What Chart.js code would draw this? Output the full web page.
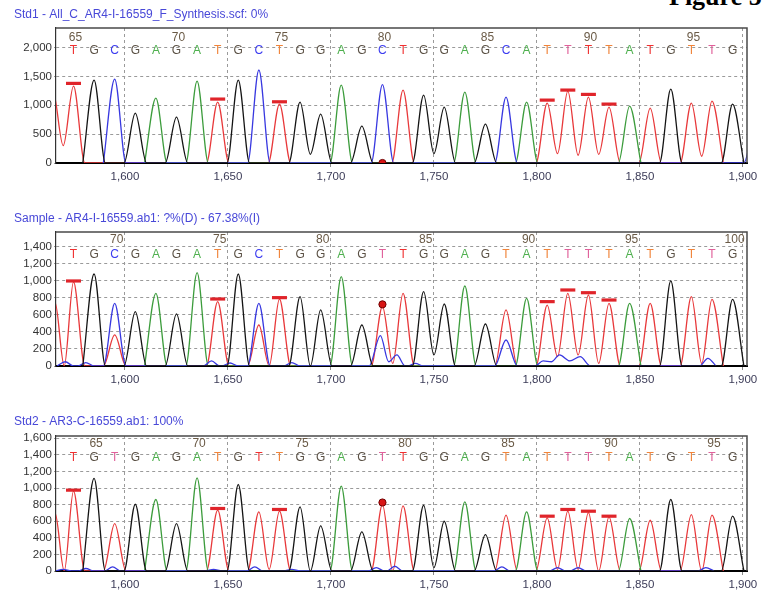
<!DOCTYPE html>
<html><head><meta charset="utf-8">
<script src="https://cdn.jsdelivr.net/npm/chart.js@4.4.1/dist/chart.umd.min.js"></script>
<style>
html,body{margin:0;padding:0;background:#fff;overflow:hidden;width:774px;height:592px;position:relative;}
.p{position:absolute;left:0;width:774px;}
#fig{position:absolute;left:669px;top:-18px;font:bold 26px "Liberation Serif",serif;color:#000;white-space:nowrap;}
</style></head><body>
<div id="fig">Figure 5</div>
<div class="p" style="top:0;height:195px"><canvas id="c1" width="774" height="195"></canvas></div>
<div class="p" style="top:200px;height:195px"><canvas id="c2" width="774" height="195"></canvas></div>
<div class="p" style="top:404px;height:188px"><canvas id="c3" width="774" height="188"></canvas></div>
<script>
// ---- data ----
const basePos = [1575,1585,1595,1605,1615,1625,1635,1645,1655,1665,1675,1685,1695,1705,1715,1725,1735,1745,1755,1765,1775,1785,1795,1805,1815,1825,1835,1845,1855,1865,1875,1885,1895];

const std1Title = 'Std1 - All_C_AR4-I-16559_F_Synthesis.scf: 0%';
const std1Bases = 'TGCGAGATGCTGGAGCTGGAGCATTTTATGTTG'.split('');
const std1Shade = 'r......o..o.....r......opro.r.op.'.split('');
const std1FirstNum = 65;
const std1Heights = [1333,1438,1455,864,1125,795,1420,1056,1438,1612,1021,1056,847,1351,638,1360,1264,1177,968,1229,673,1142,1056,1038,1247,1142,968,986,951,1281,1038,1073,1021];
const std1Extra = [['T',1565,1250],['C',1906,700]];
const std1Valleys = [['T',1570,300],['G',1690,151],['G',1750,163],['T',1810,163],['T',1820,134],['T',1830,150],['T',1880,117]];
const std1Marks = [[1575,1380],[1645,1108],[1675,1061],[1805,1090],[1815,1264],[1825,1189],[1835,1021]];
const std1Dots = [[1725,0]];
const std1YTicks = [0,500,1000,1500,2000];

const sampleTitle = 'Sample - AR4-I-16559.ab1: ?%(D) - 67.38%(I)';
const sampleBases = 'TGCGAGATGCTGGAGTTGGAGTATTTTATGTTG'.split('');
const sampleShade = 'r......o..o....pr....o.oppo.o.op.'.split('');
const sampleFirstNum = 68;
const sampleHeights = [990,1082,737,639,855,612,1098,757,1082,737,788,815,659,1050,482,700,855,874,729,941,494,659,796,717,855,835,737,737,737,1000,815,784,784];
const sampleExtra = [['T',1566,750,3.5],['T',1595,365],['T',1665,482],['C',1571,50,4],['C',1581,40,4],['C',1642,60,4],['C',1651,35,4],['C',1681,40,4],['C',1724,357],['C',1732,130,4],['C',1741,30,4],['C',1785,306],['C',1803,60,4],['C',1811,130,5],['C',1821,110,5],['C',1883,90,4]];
const sampleValleys = [['T',1730,30],['G',1690,0],['G',1750,130],['T',1810,110],['T',1820,130],['T',1830,30],['T',1880,30],['C',1728,50],['C',1807,50],['C',1816,60]];
const sampleMarks = [[1575,1000],[1645,788],[1675,804],[1805,757],[1815,894],[1825,862],[1835,776]];
const sampleDots = [[1725,725]];
const sampleYTicks = [0,200,400,600,800,1000,1200,1400];

const std2Title = 'Std2 - AR3-C-16559.ab1: 100%';
const std2Bases = 'TGTGAGATGTTGGAGTTGGAGTATTTTATGTTG'.split('');
const std2Shade = 'r.p....o.ro....pr....o.oppo.o.op.'.split('');
const std2FirstNum = 64;
const std2Heights = [963,1116,572,805,862,572,1124,733,1043,713,721,773,544,1023,471,800,785,793,600,834,439,673,713,640,721,705,652,633,612,862,681,673,661];
const std2Extra = [['T',1566,700,3.5],['C',1570,20,4],['C',1581,30,4],['C',1594,50,4],['C',1643,20,4],['C',1663,50,4],['C',1681,20,4],['C',1722,40,4],['C',1731,57,4],['C',1783,50,4],['C',1810,40,4],['C',1820,40,4],['C',1882,40,4]];
const std2Valleys = [['T',1670,20],['G',1690,0],['T',1730,0],['G',1750,40],['T',1810,20],['T',1820,20],['T',1830,0],['T',1880,0]];
const std2Marks = [[1575,975],[1645,754],[1675,742],[1805,661],[1815,742],[1825,721],[1835,661]];
const std2Dots = [[1725,826]];
const std2YTicks = [0,200,400,600,800,1000,1200,1400,1600];

// ---- styling ----
const FONT = '"Liberation Sans", Arial, sans-serif';
const HW = 5.5; // peak half-width in scan units (drawing shape)
const TRACE = {A:'#3c9c3c', C:'#3838e0', G:'#141414', T:'#e8383a'};
const LETTER = {A:'#4fb04f', C:'#3c3cf0', G:'#5a5044', r:'#ef3030', o:'#f0843a', p:'#e0609a'};

function buildTraces(bases, heights, extras, valleys) {
  const peaks = {A:[],C:[],G:[],T:[]};
  bases.forEach((b,i)=>peaks[b].push({x:basePos[i], h:heights[i], w:HW}));
  extras.forEach(e=>peaks[e[0]].push({x:e[1], h:e[2], w:e[3]||HW}));
  const out = {};
  for (const ch of ['A','C','G','T']) {
    const ps = peaks[ch].sort((a,b)=>a.x-b.x);
    const pts = [];
    ps.forEach((p,i)=>{
      const prev = ps[i-1], next = ps[i+1];
      if (!prev || p.x - prev.x > prev.w + p.w) pts.push({x:p.x-p.w, y:0});
      pts.push({x:p.x, y:p.h});
      if (!next || next.x - p.x > p.w + next.w) pts.push({x:p.x+p.w, y:0});
      else {
        const mid = (p.x+next.x)/2;
        const v = valleys.find(v=>v[0]===ch && Math.abs(v[1]-mid)<3);
        pts.push({x:mid, y:v?v[2]:0});
      }
    });
    out[ch] = pts;
  }
  return out;
}

const decor = {
  id:'decor',
  afterDraw(chart) {
    const d = chart.options.plugins.decor;
    const {ctx, chartArea:a} = chart;
    const xs = chart.scales.x;
    ctx.save();
    // frame top/right
    ctx.strokeStyle = '#4a4a4a'; ctx.lineWidth = 1.5; ctx.setLineDash([]);
    ctx.beginPath(); ctx.moveTo(a.left, a.top); ctx.lineTo(a.right, a.top); ctx.lineTo(a.right, a.bottom); ctx.stroke();
    // title
    ctx.font = '12px ' + FONT; ctx.fillStyle = '#4848d8';
    ctx.textAlign = 'left'; ctx.textBaseline = 'middle';
    ctx.fillText(d.title, 14, d.titleY);
    // base letters + numbers
    ctx.beginPath(); ctx.rect(a.left, a.top, a.right-a.left, a.bottom-a.top); ctx.clip();
    ctx.textAlign = 'center';
    d.bases.forEach((b,i)=>{
      const px = xs.getPixelForValue(basePos[i]);
      ctx.font = '12px ' + FONT;
      ctx.fillStyle = b === 'T' ? LETTER[d.shade[i]] : LETTER[b];
      ctx.fillText(b, px, a.top + d.letY);
      const n = d.firstNum + i;
      if (n % 5 === 0) {
        ctx.fillStyle = '#6a5a46';
        ctx.fillText(String(n), px + 2, a.top + d.numY);
      }
    });
    ctx.restore();
  }
};

function makeChart(id, p) {
  const tr = buildTraces(p.bases, p.heights, p.extra, p.valleys);
  const datasets = [
    {data: p.marks.map(m=>({x:m[0], y:m[1]})), showLine:false, pointStyle:'line', pointRadius:7.5,
     pointBorderWidth:3.2, pointBorderColor:'#e0242a', pointBackgroundColor:'#e0242a', borderColor:'#e0242a'},
    {data: p.dots.map(m=>({x:m[0], y:m[1]})), showLine:false, pointStyle:'circle', pointRadius:3.6,
     pointBorderWidth:1, pointBorderColor:'#700000', pointBackgroundColor:'#d81414'},
  ];
  ['G','C','A','T'].forEach(ch=>datasets.push({
    data: tr[ch], borderColor: TRACE[ch], borderWidth:1.3, pointRadius:0,
    cubicInterpolationMode:'monotone', fill:false
  }));
  return new Chart(document.getElementById(id), {
    type:'line',
    data:{datasets},
    options:{
      responsive:false, animation:false, events:[],
      layout:{padding:{top:p.top, right:27, left:0, bottom:0}},
      plugins:{legend:{display:false}, tooltip:{enabled:false}, title:{display:false},
        decor:{title:p.title, titleY:p.titleY, bases:p.bases, shade:p.shade, firstNum:p.firstNum, letY:p.letY, numY:p.numY}},
      scales:{
        x:{type:'linear', min:1566.5, max:1902,
           afterBuildTicks(s){ s.ticks = [1600,1650,1700,1750,1800,1850,1900].map(v=>({value:v})); },
           ticks:{font:{size:11.5, family:FONT}, color:'#3c3c58', padding:3, maxRotation:0, autoSkip:false},
           grid:{color:'#9a9a9a', lineWidth:1, tickLength:4, tickColor:'#8a8a8a'},
           border:{display:true, color:'#000', width:2, dash:[3,3]},
           afterFit(s){ s.height = p.xh; }},
        y:{min:0, max:p.ymax,
           afterBuildTicks(s){ s.ticks = p.yticks.map(v=>({value:v})); },
           ticks:{font:{size:11.5, family:FONT}, color:'#333', padding:2},
           grid:{color:'#9a9a9a', lineWidth:1, tickLength:2},
           border:{display:true, color:'#333', width:1.2, dash:[3,3]},
           afterFit(s){ s.width = 56; }}
      }
    },
    plugins:[decor]
  });
}

makeChart('c1', {title:std1Title, titleY:15, bases:std1Bases, shade:std1Shade, firstNum:std1FirstNum,
  heights:std1Heights, extra:std1Extra, valleys:std1Valleys, marks:std1Marks, dots:std1Dots, yticks:std1YTicks,
  ymax:2340, top:28, xh:32, letY:23, numY:9.5});
makeChart('c2', {title:sampleTitle, titleY:19, bases:sampleBases, shade:sampleShade, firstNum:sampleFirstNum,
  heights:sampleHeights, extra:sampleExtra, valleys:sampleValleys, marks:sampleMarks, dots:sampleDots, yticks:sampleYTicks,
  ymax:1576, top:32, xh:29, letY:23, numY:7.5});
makeChart('c3', {title:std2Title, titleY:18, bases:std2Bases, shade:std2Shade, firstNum:std2FirstNum,
  heights:std2Heights, extra:std2Extra, valleys:std2Valleys, marks:std2Marks, dots:std2Dots, yticks:std2YTicks,
  ymax:1628, top:32, xh:21, letY:22, numY:7.5});
</script>
</body></html>
